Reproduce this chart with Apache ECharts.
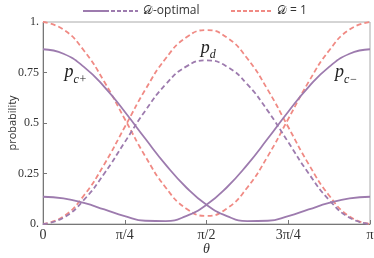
<!DOCTYPE html>
<html><head><meta charset="utf-8">
<script src="https://cdn.jsdelivr.net/npm/echarts@6/dist/echarts.min.js"></script>
<style>html,body{margin:0;padding:0;background:#fff}#c{width:374px;height:258px}</style>
</head><body><div id="c"></div>
<script>
// theta in units of pi
var theta = [0, 0.0625, 0.125, 0.1875, 0.25, 0.3125, 0.375, 0.4375, 0.5, 0.5625, 0.625, 0.6875, 0.75, 0.8125, 0.875, 0.9375, 1];
var pcPlusOpt = [0.865, 0.843, 0.778, 0.679, 0.556, 0.423, 0.294, 0.182, 0.095, 0.039, 0.014, 0.016, 0.039, 0.072, 0.104, 0.127, 0.135];
var pcMinusOpt = [0.135, 0.127, 0.104, 0.072, 0.039, 0.016, 0.014, 0.039, 0.095, 0.182, 0.294, 0.423, 0.556, 0.679, 0.778, 0.843, 0.865];
var pdOpt = [0, 0.031, 0.119, 0.250, 0.405, 0.560, 0.691, 0.779, 0.81, 0.779, 0.691, 0.560, 0.405, 0.250, 0.119, 0.031, 0];
var pdOne = [0, 0.037, 0.141, 0.296, 0.48, 0.664, 0.819, 0.923, 0.96, 0.923, 0.819, 0.664, 0.48, 0.296, 0.141, 0.037, 0];
var pcOne = [1, 0.963, 0.859, 0.704, 0.52, 0.336, 0.181, 0.077, 0.04, 0.077, 0.181, 0.336, 0.52, 0.704, 0.859, 0.963, 1];
var xTickLabels = {0: '0', 0.25: 'π/4', 0.5: 'π/2', 0.75: '3π/4', 1: 'π'};
var yTickLabels = {0: '0.', 0.25: '0.25', 0.5: '0.5', 0.75: '0.75', 1: '1.'};
var seriesNames = ['𝒟-optimal', '𝒟 = 1'];
var annotations = [
  {text: '{p|p}{s|c+}', coord: [0.1, 0.75]},
  {text: '{p|p}{s|d}', coord: [0.505, 0.87]},
  {text: '{p|p}{s|c−}', coord: [0.927, 0.75]}
];

var purple = '#9d7bae', pink = '#f08a84';
function pairs(ys){ return theta.map(function(t,i){ return [t, ys[i]]; }); }

var rich = {
  p: {fontFamily: 'Liberation Serif', fontStyle: 'italic', fontSize: 18, color: '#222'},
  s: {fontFamily: 'Liberation Serif', fontStyle: 'italic', fontSize: 12, color: '#222', padding: [14, 0, 0, 0]}
};

var chart = echarts.init(document.getElementById('c'));
chart.setOption({
  animation: false,
  grid: {left: 43, right: 4, top: 22, bottom: 34, show: true, borderColor: '#aaa', borderWidth: 1, containLabel: false, outerBoundsMode: 'none'},
  legend: [{
    data: [seriesNames[0]], left: 78, top: 0, itemWidth: 55, itemHeight: 2, itemGap: 4,
    icon: 'path://M0,0h26v2h-26z M28,0h4v2h-4z M34,0h4v2h-4z M40,0h4v2h-4z M46,0h4v2h-4z M52,0h3v2h-3z',
    textStyle: {fontFamily: 'Open Sans', fontSize: 12, color: '#333'}
  }, {
    data: [seriesNames[1]], left: 226, top: 0, itemWidth: 42, itemHeight: 2,
    icon: 'path://M0,0h4v2h-4z M6,0h4v2h-4z M12,0h4v2h-4z M18,0h4v2h-4z M24,0h4v2h-4z M30,0h4v2h-4z M36,0h4v2h-4z',
    textStyle: {fontFamily: 'Open Sans', fontSize: 12, color: '#333'}
  }],
  xAxis: {
    type: 'value', min: 0, max: 1, interval: 0.25,
    name: 'θ', nameLocation: 'middle', nameGap: 18, nameMoveOverlap: false,
    nameTextStyle: {fontFamily: 'Liberation Serif', fontStyle: 'italic', fontSize: 14, color: '#333'},
    axisLine: {lineStyle: {color: '#777'}},
    axisTick: {inside: true, length: 4, lineStyle: {color: '#777'}},
    axisLabel: {formatter: function(v){ return xTickLabels[v]; }, fontFamily: 'Liberation Serif', fontSize: 14, color: '#333', margin: 4},
    splitLine: {show: false}
  },
  yAxis: {
    type: 'value', min: 0, max: 1, interval: 0.25,
    name: 'probability', nameLocation: 'middle', nameGap: 25, nameMoveOverlap: false,
    nameTextStyle: {fontFamily: 'Open Sans', fontSize: 11, color: '#333'},
    axisLine: {show: true, lineStyle: {color: '#777'}},
    axisTick: {show: true, inside: true, length: 4, lineStyle: {color: '#777'}},
    axisLabel: {formatter: function(v){ return yTickLabels[v]; }, fontFamily: 'Liberation Serif', fontSize: 12, color: '#333', margin: 4},
    splitLine: {show: false}
  },
  series: [
    {name: seriesNames[1], type: 'line', smooth: true, symbol: 'none', data: pairs(pdOne), lineStyle: {color: pink, width: 1.8, type: [5, 3]}, itemStyle: {color: pink}},
    {name: seriesNames[1], type: 'line', smooth: true, symbol: 'none', data: pairs(pcOne), lineStyle: {color: pink, width: 1.8, type: [5, 3]}, itemStyle: {color: pink}},
    {name: seriesNames[0], type: 'line', smooth: true, symbol: 'none', data: pairs(pdOpt), lineStyle: {color: purple, width: 1.8, type: [5, 3]}, itemStyle: {color: purple},
      markPoint: {symbol: 'circle', symbolSize: 0, data: annotations.map(function(a){ return {coord: a.coord, value: 0, label: {show: true, position: 'inside', formatter: a.text, rich: rich}}; })}},
    {name: seriesNames[0], type: 'line', smooth: true, symbol: 'none', data: pairs(pcPlusOpt), lineStyle: {color: purple, width: 1.8}, itemStyle: {color: purple}},
    {name: seriesNames[0], type: 'line', smooth: true, symbol: 'none', data: pairs(pcMinusOpt), lineStyle: {color: purple, width: 1.8}, itemStyle: {color: purple}}
  ]
});
</script></body></html>
